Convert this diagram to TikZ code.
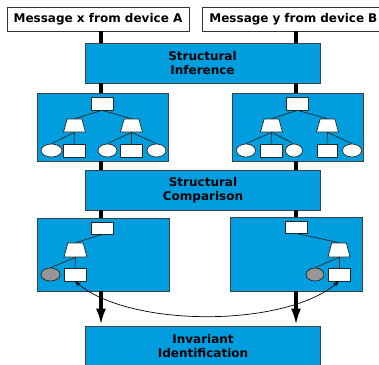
\documentclass[tikz,border=0pt]{standalone}
\usepackage{fontspec}
\setmainfont{DejaVu Sans}
\usetikzlibrary{shapes.geometric,arrows.meta}

\definecolor{stageblue}{RGB}{0,158,222}
\definecolor{leafgrey}{RGB}{150,150,150}
\definecolor{linegrey}{RGB}{40,40,40}

\begin{document}
\begin{tikzpicture}[x=1pt,y=-1pt,
		msgbox/.style={draw=black!80,fill=white,line width=0.8pt,minimum width=182pt,minimum height=24pt,inner sep=0pt,font=\fontsize{12}{14}\selectfont\bfseries},
		stagebox/.style={draw=black!75,fill=stageblue,line width=0.8pt,minimum width=235pt,minimum height=40pt,inner sep=0pt,align=center,font=\fontsize{12}{14}\selectfont\bfseries},
		treebox/.style={draw=black!75,fill=stageblue,line width=0.8pt,inner sep=0pt},
		rectnode/.style={draw=black!85,fill=white,line width=0.7pt,minimum width=22pt,minimum height=13pt,inner sep=0pt},
		trapnode/.style={trapezium,trapezium stretches=true,trapezium angle=76,draw=black!85,fill=white,line width=0.7pt,minimum width=22pt,minimum height=13pt,inner sep=1pt},
		ovalnode/.style={ellipse,draw=black!85,fill=white,line width=0.7pt,minimum width=20pt,minimum height=13pt,inner sep=0pt},
		greynode/.style={ovalnode,fill=leafgrey},
		treeline/.style={draw=linegrey,line width=0.7pt},
		lane/.style={draw=black,line width=3.5pt}]

		\useasboundingbox (0,0) rectangle (379,364);

		% the two message lanes
		\coordinate (laneA) at (101,0);
		\coordinate (laneB) at (296,0);

		\node[msgbox] (msgA) at (98,19)  {Message x from device A};
		\node[msgbox,anchor=west,inner xsep=7pt,text width=176pt,align=left] (msgB) at (202,19) {Message y from device B};

		\node[stagebox] (infer) at (202.5,63) {Structural\\Inference};
		\node[stagebox] (cmp)   at (203,190)  {Structural\\Comparison};
		\node[stagebox] (ident) at (203,346)  {Invariant\\Identification};

		\node[treebox,minimum width=131pt,minimum height=68pt] (treeA) at (102.5,127) {};
		\node[treebox,minimum width=131pt,minimum height=68pt] (treeB) at (297.5,127) {};
		\node[treebox,minimum width=132pt,minimum height=73pt] (diffA) at (103,254.5) {};
		\node[treebox,minimum width=132pt,minimum height=74pt] (diffB) at (296,254)   {};

		\draw[lane] (msgA.south -| laneA)  -- (infer.north -| laneA);
		\draw[lane] (msgB.south -| laneB)  -- (infer.north -| laneB);
		\draw[lane] (infer.south -| laneA) -- (treeA.north -| laneA);
		\draw[lane] (infer.south -| laneB) -- (treeB.north -| laneB);
		\draw[lane] (treeA.south -| laneA) -- (cmp.north -| laneA);
		\draw[lane] (treeB.south -| laneB) -- (cmp.north -| laneB);
		\draw[lane] (cmp.south -| laneA)   -- (diffA.north -| laneA);
		\draw[lane] (cmp.south -| laneB)   -- (diffB.north -| laneB);
		\draw[lane,-{Latex[length=17pt,width=10pt]}] (diffA.south -| laneA) -- (ident.north -| laneA);
		\draw[lane,-{Latex[length=17pt,width=10pt]}] (diffB.south -| laneB) -- (ident.north -| laneB);

		% tree of message x
		\node[rectnode] 				(a0)	at (102,103.5)	{};
		\node[trapnode] 				(a1)	at (74.5,125.5)	{};
		\node[trapnode] 				(a2)	at (131.5,125.5) {};
		\node[ovalnode,minimum width=21pt] 	(a11)	at (51.5,150.5)	{};
		\node[rectnode] 				(a12)	at (74,150.5)	{};
		\node[ovalnode,minimum width=19pt] 	(a21)	at (107.5,150.5) {};
		\node[rectnode] 				(a22)	at (131.5,150.5) {};
		\node[ovalnode,minimum width=19pt] 	(a23)	at (156.5,150.5) {};

		\draw[treeline] (a0.south) -- (a1.north);
		\draw[treeline] (a0.south) -- (a2.north);
		\draw[treeline] (a1.south) -- (a11.north);
		\draw[treeline] (a1.south) -- (a12.north);
		\draw[treeline] (a2.south) -- (a21.north);
		\draw[treeline] (a2.south) -- (a22.north);
		\draw[treeline] (a2.south) -- (a23.north);

		% tree of message y
		\node[rectnode] 				(b0)	at (297.5,103.5) {};
		\node[trapnode] 				(b1)	at (271.5,125.5) {};
		\node[trapnode] 				(b2)	at (327.5,125.5) {};
		\node[ovalnode,minimum width=19pt] 	(b11)	at (246,150.5)	{};
		\node[rectnode] 				(b12)	at (271,150.5)	{};
		\node[ovalnode,minimum width=17pt] 	(b13)	at (294,150.5)	{};
		\node[rectnode,minimum width=20pt] 	(b21)	at (327,150.5)	{};
		\node[ovalnode,minimum width=19pt] 	(b22)	at (352,150.5)	{};

		\draw[treeline] (b0.south) -- (b1.north);
		\draw[treeline] (b0.south) -- (b2.north);
		\draw[treeline] (b1.south) -- (b11.north);
		\draw[treeline] (b1.south) -- (b12.north);
		\draw[treeline] (b1.south) -- (b13.north);
		\draw[treeline] (b2.south) -- (b21.north);
		\draw[treeline] (b2.south) -- (b22.north);

		% differing parts
		\node[rectnode,minimum height=12pt] 	(c0)	at (102.5,228)	{};
		\node[trapnode,minimum width=23pt,minimum height=14pt] (c1) at (75.5,250) {};
		\node[greynode,minimum width=19pt] 	(c11)	at (50.5,274.5)	{};
		\node[rectnode] 				(c12)	at (75,274.5)	{};

		\draw[treeline] (c0.south) -- (c1.north);
		\draw[treeline] (c1.south) -- (c11.north);
		\draw[treeline] (c1.south) -- (c12.north);

		\node[rectnode,minimum height=12pt] 	(d0)	at (296,227)	{};
		\node[trapnode,minimum width=22pt,minimum height=14pt] (d1) at (339,250) {};
		\node[greynode,minimum width=18pt] 	(d11)	at (315,274.5)	{};
		\node[rectnode] 				(d12)	at (339,274.5)	{};

		\draw[treeline] (d0.south) -- (d1.north);
		\draw[treeline] (d1.south) -- (d11.north);
		\draw[treeline] (d1.south) -- (d12.north);

		\draw[line width=0.7pt,{Stealth[length=6pt,width=4pt]}-{Stealth[length=6pt,width=4pt]}] (c12.south) to[out=-40,in=-140,looseness=0.7] (d12.south);
	\end{tikzpicture}
\end{document}
